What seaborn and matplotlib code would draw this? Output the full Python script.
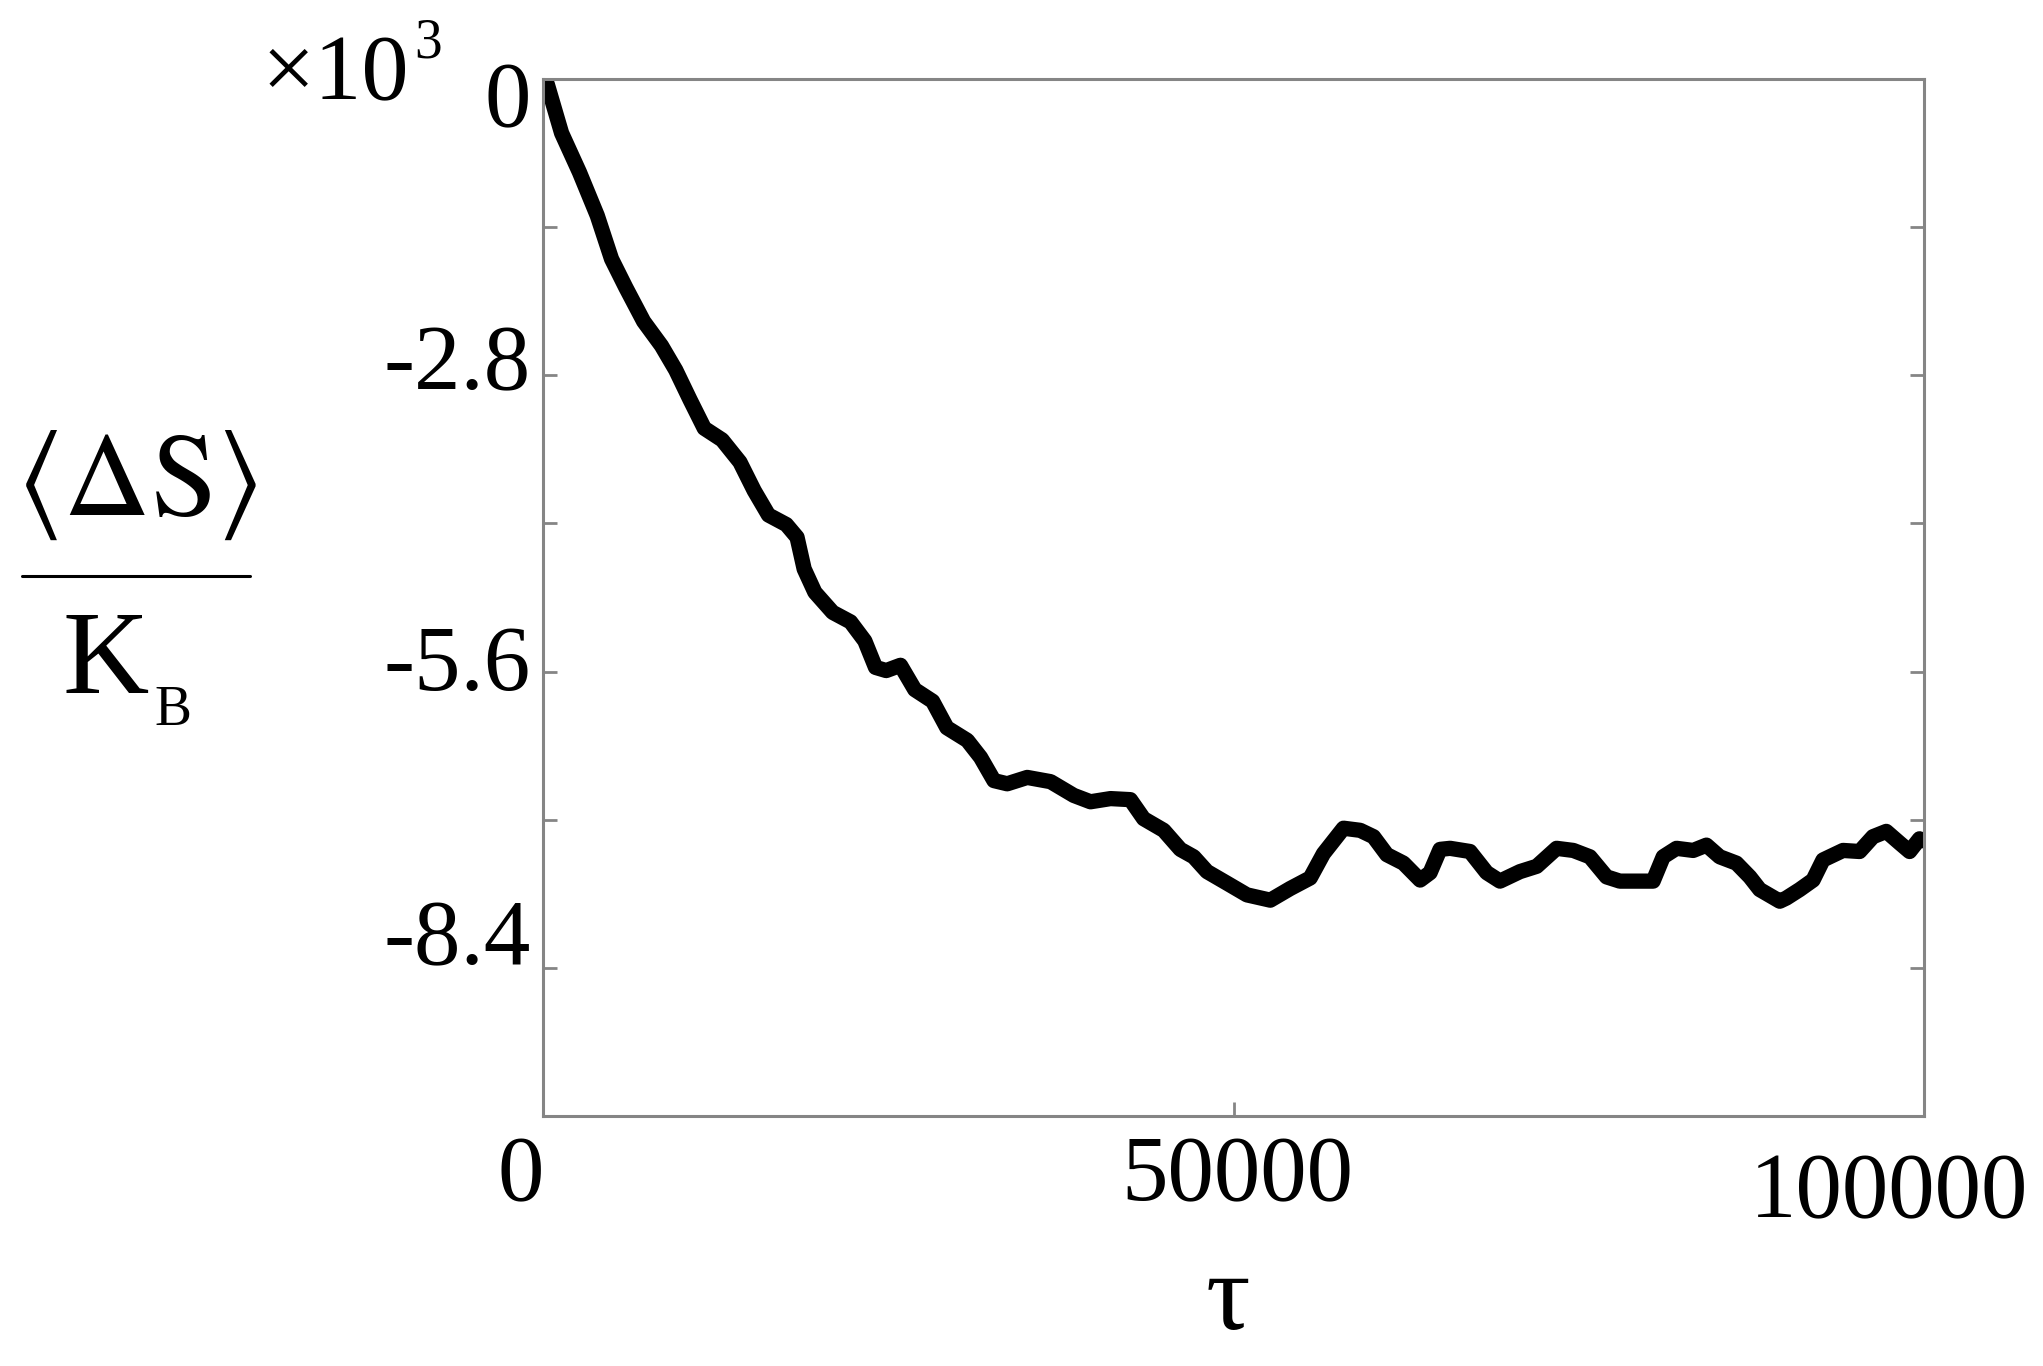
import numpy as np
import pandas as pd
import matplotlib
matplotlib.use("Agg")
import matplotlib.pyplot as plt
import matplotlib.transforms as mtrans
from matplotlib.lines import Line2D
import seaborn as sns

# --- data (tau, <dS>/kB in units of 10^3) ---
tau = [0, 310, 1343, 2635, 3927, 4960, 5993, 7284, 8576, 9609,
       10642, 11675, 12967, 14258, 15292, 16325, 17617, 18392, 18908, 19683,
       20975, 22266, 23300, 24075, 24850, 25883, 26917, 28208, 29241, 30720,
       31680, 32650, 33610, 35060, 36750, 38430, 39640, 41090, 42530, 43490,
       44940, 46150, 47110, 48080, 49530, 50970, 52660, 54100, 55550, 56510,
       57960, 59170, 60130, 61100, 62300, 63510, 64230, 64950, 65680, 67120,
       68330, 69290, 70740, 71950, 73390, 74600, 75800, 77010, 77970, 79420,
       80380, 81110, 82070, 83280, 84240, 85200, 86410, 87380, 88100, 89550,
       90030, 90990, 91960, 92680, 94130, 95330, 96300, 97260, 98230, 98950,
       99670, 100000]
ds_k = [0.00, -0.05, -0.51, -0.88, -1.29, -1.70, -1.97, -2.29, -2.52, -2.75,
        -3.03, -3.30, -3.41, -3.62, -3.89, -4.12, -4.21, -4.33, -4.63, -4.85,
        -5.04, -5.13, -5.31, -5.56, -5.59, -5.54, -5.77, -5.88, -6.13, -6.25,
        -6.41, -6.63, -6.66, -6.60, -6.64, -6.77, -6.83, -6.80, -6.81, -6.99,
        -7.10, -7.28, -7.35, -7.49, -7.60, -7.71, -7.76, -7.65, -7.55, -7.32,
        -7.08, -7.10, -7.16, -7.33, -7.41, -7.57, -7.50, -7.28, -7.27, -7.30,
        -7.50, -7.58, -7.49, -7.44, -7.27, -7.29, -7.35, -7.54, -7.58, -7.58,
        -7.58, -7.35, -7.27, -7.29, -7.24, -7.35, -7.41, -7.54, -7.66, -7.77,
        -7.74, -7.66, -7.57, -7.38, -7.29, -7.30, -7.16, -7.11, -7.22, -7.30,
        -7.18, -7.20]

x_ticks = [0, 50000, 100000]
x_tick_labels = ["0", "50000", "100000"]
y_major = [0, -2.8, -5.6, -8.4]
y_major_labels = ["0", "-2.8", "-5.6", "-8.4"]
y_minor = [-1.4, -4.2, -7.0, -9.8]

df = pd.DataFrame({"tau": tau, "dS": ds_k})

sns.set_theme(style="white")
plt.rcParams["font.family"] = ["Liberation Serif", "DejaVu Serif"]
plt.rcParams["mathtext.fontset"] = "stix"
plt.rcParams["text.color"] = "black"

GRAY = "#858585"
fig = plt.figure(figsize=(20.43, 13.66), dpi=100)
ax = fig.add_axes([0.2658, 0.1830, 0.676, 0.7591])

sns.lineplot(data=df, x="tau", y="dS", ax=ax, color="black", linewidth=11,
             solid_capstyle="round", solid_joinstyle="round")

ax.set_xlim(0, 100000)
ax.set_ylim(-9.8, 0)
ax.set_xlabel("")
ax.set_ylabel("")

for sp in ax.spines.values():
    sp.set_color(GRAY)
    sp.set_linewidth(2.2)

ax.set_xticks(x_ticks)
ax.set_xticklabels(x_tick_labels)
ax.set_yticks(y_major)
ax.set_yticklabels(y_major_labels)
ax.set_yticks(y_minor, minor=True)

ax.tick_params(axis="both", which="both", direction="in", length=10, width=2,
               color=GRAY, labelsize=67, labelcolor="black")
ax.tick_params(axis="y", which="both", left=True, right=True, pad=9)
ax.tick_params(axis="x", which="both", bottom=True, top=False, pad=14)

# small per-label nudges (pixels) to mimic the original placement
def nudge(lbl, dx, dy):
    lbl.set_transform(lbl.get_transform() +
                      mtrans.ScaledTranslation(dx / 100, dy / 100, fig.dpi_scale_trans))

for lbl, (dx, dy) in zip(ax.get_xticklabels(), [(-22, 0), (4, 0), (-35, -17)]):
    nudge(lbl, dx, dy)
for lbl, (dx, dy) in zip(ax.get_yticklabels(), [(0, -15), (0, 18), (0, 14), (0, 36)]):
    nudge(lbl, dx, dy)

# x label
fig.text(0.601, 0.027, "\u03c4", fontsize=80, ha="center", va="baseline")

# multiplier
fig.text(0.128, 0.927, "\u00d710", fontsize=68, ha="left", va="baseline")
fig.text(0.203, 0.958, "3", fontsize=40, ha="left", va="baseline")

# y label as a stacked fraction: <dS> over K_B
fig.text(0.0666, 0.645, r"$\left\langle\Delta\mathrm{S}\right\rangle$", fontsize=86,
         ha="center", va="center")
fig.add_artist(Line2D([0.0108, 0.1224], [0.578, 0.578], transform=fig.transFigure,
                      color="black", linewidth=2.2))
fig.text(0.0519, 0.4927, "K", fontsize=86, ha="center", va="baseline")
fig.text(0.0847, 0.4693, "B", fontsize=40, ha="center", va="baseline")

fig.savefig("out.png", dpi=100, facecolor="white")
